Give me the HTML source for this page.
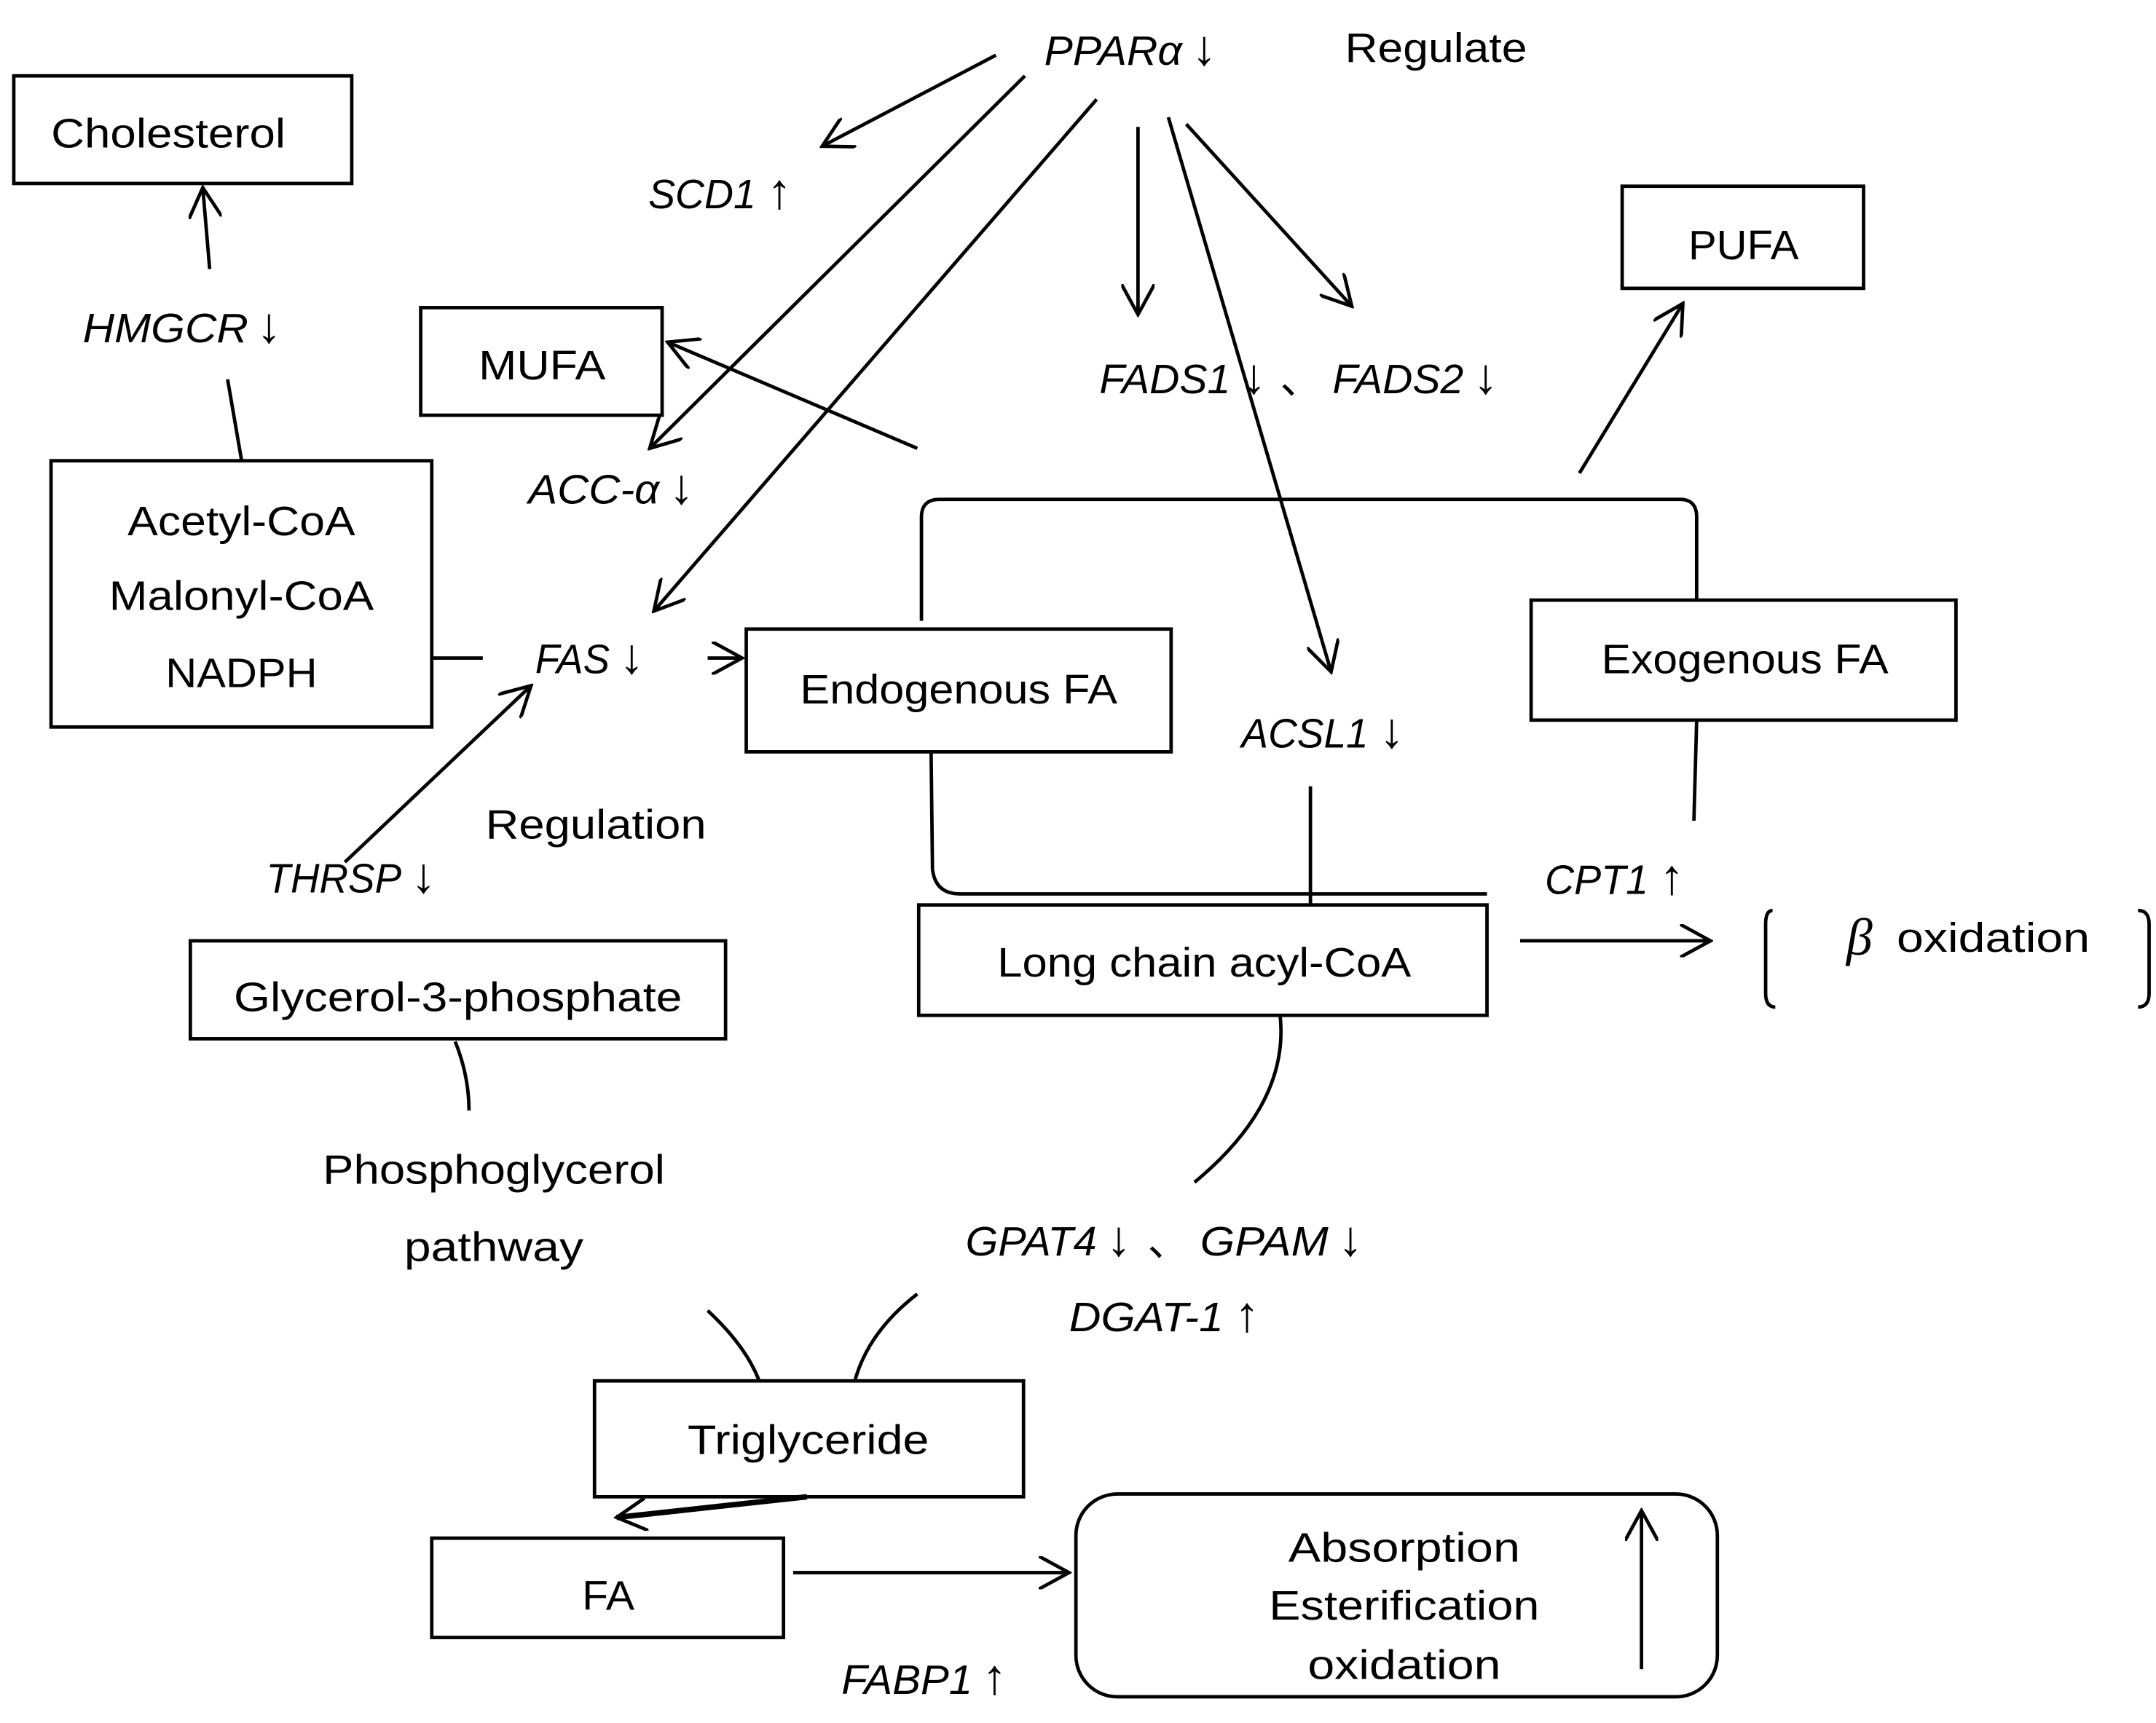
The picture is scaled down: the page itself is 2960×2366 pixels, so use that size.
<!DOCTYPE html>
<html><head><meta charset="utf-8"><style>html,body{margin:0;padding:0;background:#fff}svg{display:block}.g{font-style:normal;font-size:36px}</style></head>
<body>
<svg width="2960" height="2366" viewBox="0 0 1563 1249" preserveAspectRatio="none" xmlns="http://www.w3.org/2000/svg" font-family="Liberation Sans, sans-serif" font-size="30">
<defs>
<marker id="a" markerWidth="14" markerHeight="14" refX="12" refY="7" orient="auto" markerUnits="userSpaceOnUse"><path d="M0,0 L12,7 L0,14" fill="none" stroke="#000" stroke-width="2.5"/></marker>
<marker id="b" markerWidth="24" markerHeight="24" refX="22" refY="12" orient="auto" markerUnits="userSpaceOnUse"><path d="M0,0 L22,12 L0,24" fill="none" stroke="#000" stroke-width="2.5"/></marker>
</defs>
<g fill="none" stroke="#000" stroke-width="2.5">
<rect x="10" y="55" width="245" height="78"/>
<rect x="37" y="334" width="276" height="193"/>
<rect x="305" y="223" width="175" height="78"/>
<rect x="1176" y="135" width="175" height="74"/>
<rect x="541" y="456" width="308" height="89"/>
<rect x="1110" y="435" width="308" height="87"/>
<rect x="666" y="656" width="412" height="80"/>
<rect x="138" y="682" width="388" height="71"/>
<rect x="431" y="1001" width="311" height="84"/>
<rect x="313" y="1115" width="255" height="72"/>
<rect x="780" y="1083" width="465" height="147" rx="30"/>
<path d="M668,450 L668,375 Q668,362 681,362 L1218,362 Q1230,362 1230,375 L1230,435"/>
<path d="M675,545 L676,630 Q678,648 696,648 L1078,648"/>
<path d="M1285,660 Q1280,660 1280,670 L1280,720 Q1280,730 1287,730"/>
<path d="M1550,660 Q1558,660 1558,670 L1558,720 Q1558,730 1550,730"/>
<line x1="165" y1="275" x2="175" y2="333"/>
<line x1="313" y1="477" x2="350" y2="477"/>
<line x1="950" y1="570" x2="950" y2="656"/>
<line x1="1230" y1="522" x2="1228" y2="595"/>
<path d="M330,755 Q340,780 340,805"/>
<path d="M928,736 Q935,800 866,857"/>
<path d="M513,950 Q540,975 550,1000"/>
<path d="M665,938 Q630,965 620,1000"/>
<g marker-end="url(#b)">
<line x1="152" y1="195" x2="147" y2="136"/>
<line x1="722" y1="40" x2="596" y2="106"/>
<line x1="743" y1="55" x2="471" y2="325"/>
<line x1="795" y1="72" x2="474" y2="443"/>
<line x1="825" y1="92" x2="825" y2="228"/>
<line x1="860" y1="90" x2="980" y2="222"/>
<line x1="847" y1="85" x2="965" y2="487"/>
<line x1="665" y1="325" x2="484" y2="248"/>
<line x1="1145" y1="343" x2="1220" y2="220"/>
<line x1="250" y1="625" x2="385" y2="497"/>
<line x1="513" y1="477" x2="538" y2="477"/>
<line x1="1102" y1="682" x2="1240" y2="682"/>
<line x1="575" y1="1140" x2="775" y2="1140"/>
<line x1="1190" y1="1210" x2="1190" y2="1095"/>
</g>
<line x1="585" y1="1085" x2="447" y2="1100" stroke-width="4" marker-end="url(#b)"/>
</g>
<g fill="#000" text-anchor="middle">
<text x="122" y="107" textLength="170" lengthAdjust="spacingAndGlyphs">Cholesterol</text>
<text x="175" y="388" textLength="165" lengthAdjust="spacingAndGlyphs">Acetyl-CoA</text>
<text x="175" y="442" textLength="192" lengthAdjust="spacingAndGlyphs">Malonyl-CoA</text>
<text x="175" y="498" textLength="110" lengthAdjust="spacingAndGlyphs">NADPH</text>
<text x="393" y="275" textLength="92" lengthAdjust="spacingAndGlyphs">MUFA</text>
<text x="1264" y="188" textLength="80" lengthAdjust="spacingAndGlyphs">PUFA</text>
<text x="695" y="510" textLength="230" lengthAdjust="spacingAndGlyphs">Endogenous FA</text>
<text x="1265" y="488" textLength="208" lengthAdjust="spacingAndGlyphs">Exogenous FA</text>
<text x="873" y="708" textLength="300" lengthAdjust="spacingAndGlyphs">Long chain acyl-CoA</text>
<text x="332" y="733" textLength="325" lengthAdjust="spacingAndGlyphs">Glycerol-3-phosphate</text>
<text x="358" y="858" textLength="248" lengthAdjust="spacingAndGlyphs">Phosphoglycerol</text>
<text x="358" y="914" textLength="130" lengthAdjust="spacingAndGlyphs">pathway</text>
<text x="586" y="1054" textLength="175" lengthAdjust="spacingAndGlyphs">Triglyceride</text>
<text x="441" y="1167" textLength="38" lengthAdjust="spacingAndGlyphs">FA</text>
<text x="1018" y="1132" textLength="168" lengthAdjust="spacingAndGlyphs">Absorption</text>
<text x="1018" y="1174" textLength="196" lengthAdjust="spacingAndGlyphs">Esterification</text>
<text x="1018" y="1217" textLength="140" lengthAdjust="spacingAndGlyphs">oxidation</text>
<text x="1041" y="45" textLength="132" lengthAdjust="spacingAndGlyphs">Regulate</text>
<text x="432" y="608" textLength="160" lengthAdjust="spacingAndGlyphs">Regulation</text>
<text x="1445" y="690" textLength="140" lengthAdjust="spacingAndGlyphs">oxidation</text>
<text x="1348" y="692" font-style="italic" font-family="Liberation Serif, serif" font-size="38">β</text>
</g>
<g fill="#000" font-style="italic">
<text x="60" y="248" textLength="120" lengthAdjust="spacingAndGlyphs">HMGCR</text><text x="186" y="248" class="g">↓</text>
<text x="470" y="151" textLength="78" lengthAdjust="spacingAndGlyphs">SCD1</text><text x="556" y="151" class="g">↑</text>
<text x="757" y="47" textLength="100" lengthAdjust="spacingAndGlyphs">PPARα</text><text x="864" y="47" class="g">↓</text>
<text x="383" y="365" textLength="95" lengthAdjust="spacingAndGlyphs">ACC-α</text><text x="485" y="365" class="g">↓</text>
<text x="388" y="488" textLength="54" lengthAdjust="spacingAndGlyphs">FAS</text><text x="449" y="488" class="g">↓</text>
<text x="193" y="647" textLength="98" lengthAdjust="spacingAndGlyphs">THRSP</text><text x="298" y="647" class="g">↓</text>
<text x="797" y="285" textLength="95" lengthAdjust="spacingAndGlyphs">FADS1</text><text x="900" y="285" class="g">↓</text><text x="928" y="285" font-style="normal">、</text>
<text x="966" y="285" textLength="95" lengthAdjust="spacingAndGlyphs">FADS2</text><text x="1068" y="285" class="g">↓</text>
<text x="900" y="542" textLength="92" lengthAdjust="spacingAndGlyphs">ACSL1</text><text x="1000" y="542" class="g">↓</text>
<text x="1120" y="648" textLength="75" lengthAdjust="spacingAndGlyphs">CPT1</text><text x="1203" y="648" class="g">↑</text>
<text x="700" y="910" textLength="95" lengthAdjust="spacingAndGlyphs">GPAT4</text><text x="802" y="910" class="g">↓</text><text x="832" y="910" font-style="normal">、</text>
<text x="870" y="910" textLength="93" lengthAdjust="spacingAndGlyphs">GPAM</text><text x="970" y="910" class="g">↓</text>
<text x="775" y="965" textLength="112" lengthAdjust="spacingAndGlyphs">DGAT-1</text><text x="895" y="965" class="g">↑</text>
<text x="610" y="1228" textLength="95" lengthAdjust="spacingAndGlyphs">FABP1</text><text x="712" y="1228" class="g">↑</text>
</g>
</svg>
</body></html>
